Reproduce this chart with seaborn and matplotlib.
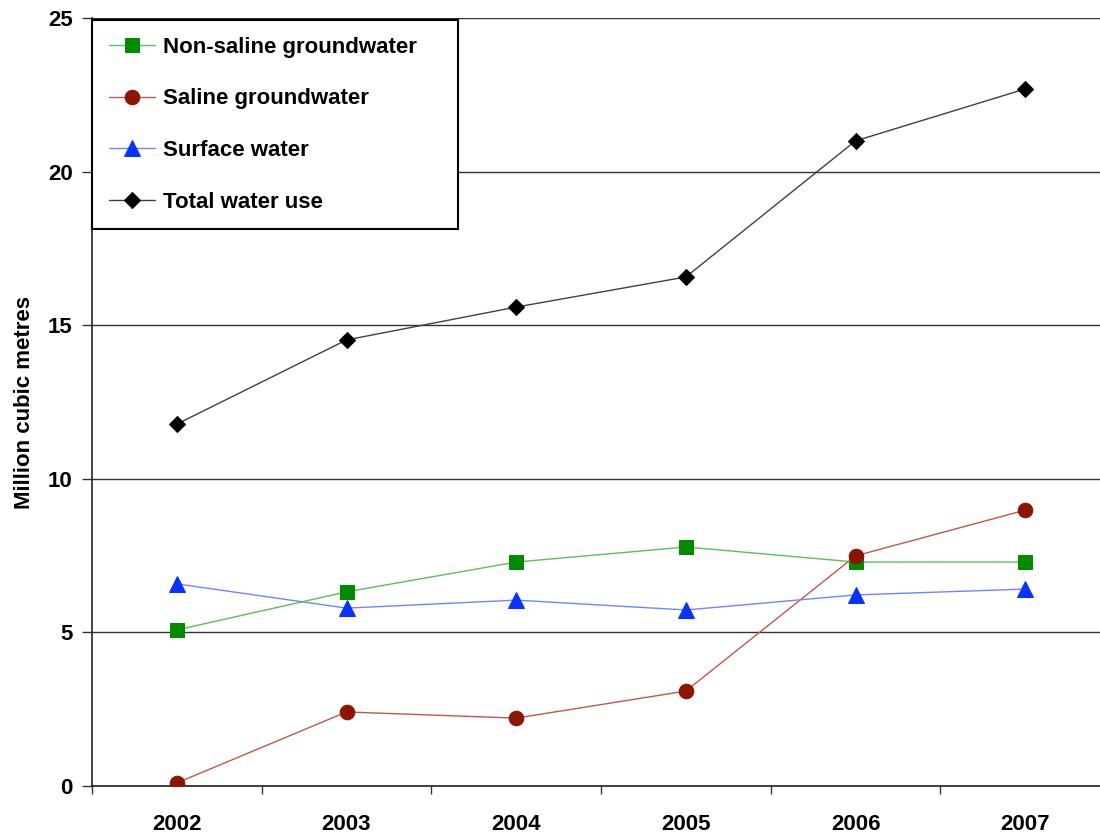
import matplotlib
matplotlib.use("Agg")
import matplotlib.pyplot as plt
import seaborn as sns
import pandas as pd

years = ["2002", "2003", "2004", "2005", "2006", "2007"]
non_saline = [5.08, 6.32, 7.29, 7.78, 7.29, 7.29]
saline = [0.10, 2.41, 2.21, 3.09, 7.49, 8.98]
surface = [6.58, 5.79, 6.05, 5.73, 6.22, 6.41]
total = [11.78, 14.52, 15.59, 16.57, 21.00, 22.69]

series_names = ["Non-saline groundwater", "Saline groundwater", "Surface water", "Total water use"]
series_values = [non_saline, saline, surface, total]

sns.set_style("white")
plt.rcParams["font.family"] = ["Liberation Sans", "DejaVu Sans"]
plt.rcParams["text.color"] = "black"
plt.rcParams["axes.labelcolor"] = "black"
plt.rcParams["xtick.color"] = "black"
plt.rcParams["ytick.color"] = "black"

fig = plt.figure(figsize=(11, 8.33), dpi=100)
ax = fig.add_axes([92 / 1100, 1 - 786 / 833, 1018 / 1100, 768 / 833])

styles = [
    dict(line="#5cbf5c", marker="s", face="#008a00", ms=10),
    dict(line="#c0584a", marker="o", face="#8b1500", ms=10.5),
    dict(line="#6f86ff", marker="^", face="#0a32ff", ms=11.5),
    dict(line="#404040", marker="D", face="#000000", ms=8),
]

x = list(range(len(years)))
for name, vals, st in zip(series_names, series_values, styles):
    df = pd.DataFrame({"x": x, "y": vals})
    sns.lineplot(data=df, x="x", y="y", ax=ax, color=st["line"], linewidth=1.0,
                 marker=st["marker"], markersize=st["ms"],
                 markerfacecolor=st["face"], markeredgecolor=st["face"],
                 label=name, zorder=3)

ax.set_xlim(-0.5, 5.5)
ax.set_ylim(0, 25)
ax.set_yticks([0, 5, 10, 15, 20, 25])
ax.set_xticks(x)
ax.set_xticklabels(years)
ax.set_xticks([i - 0.5 for i in range(len(years) + 1)], minor=True)
ax.tick_params(axis="x", which="major", length=0, pad=20, labelcolor="black")
ax.tick_params(axis="x", which="minor", length=6, width=1, color="#333333", direction="out", bottom=True)
ax.tick_params(axis="y", which="major", length=7, width=1, color="#333333", direction="out", left=True, pad=7,
               labelcolor="black")
for lab in ax.get_xticklabels() + ax.get_yticklabels():
    lab.set_fontweight("bold")
    lab.set_fontsize(16)

ax.yaxis.grid(True, color="#333333", linewidth=1.0)
ax.set_axisbelow(True)
for s in ["top", "right"]:
    ax.spines[s].set_visible(False)
for s in ["left", "bottom"]:
    ax.spines[s].set_color("#222222")
    ax.spines[s].set_linewidth(1.2)

ax.set_xlabel("")
ax.set_ylabel("Million cubic metres", fontsize=16, fontweight="bold", labelpad=9, color="black")

leg = ax.legend(loc="upper left", bbox_to_anchor=(0.0, 0.0, 0.3595, 0.9974), mode="expand",
                frameon=True, fancybox=False, edgecolor="black", framealpha=1,
                prop=dict(size=16, weight="bold"),
                labelspacing=1.38, handlelength=2.1, handletextpad=0.35, borderpad=0.75,
                borderaxespad=0.0)
leg.get_frame().set_linewidth(1.5)
for t in leg.get_texts():
    t.set_color("black")

fig.savefig("out.png", dpi=100)
